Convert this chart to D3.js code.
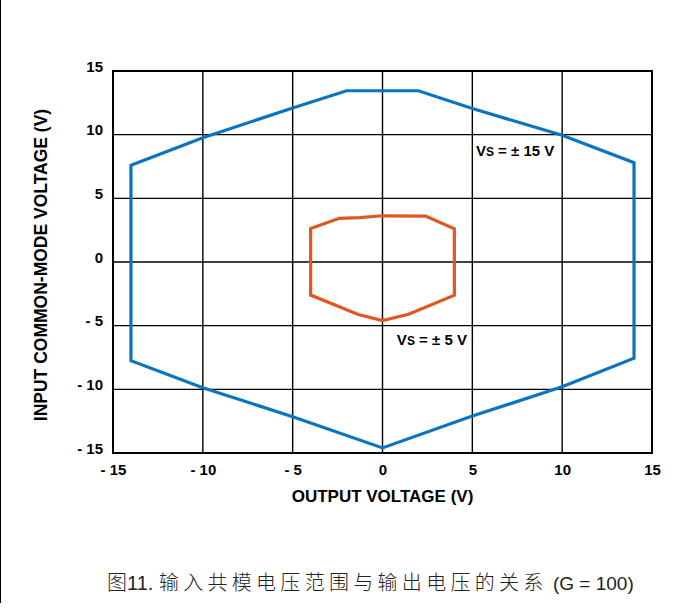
<!DOCTYPE html>
<html><head><meta charset="utf-8">
<script src="https://cdn.jsdelivr.net/npm/d3@7"></script>
<style>
body{margin:0;background:#fff;}
svg{display:block;}
</style></head>
<body>
<svg id="chart" width="684" height="615"></svg>
<script>
const tickValues = [-15, -10, -5, 0, 5, 10, 15];
const xTickLabels = ["- 15", "- 10", "- 5", "0", "5", "10", "15"];
const yTickLabels = ["- 15", "- 10", "- 5", "0", "5", "10", "15"];
// ±15 V supply boundary (output V, input CM V)
const vs15X = [-14.0, -10, -5, -2.0, 2.0, 5, 10, 14.0, 14.0, 10, 5, 0, -5, -10, -14.0];
const vs15Y = [7.6, 9.75, 12.1, 13.45, 13.45, 12.05, 9.95, 7.8, -7.55, -9.8, -12.1, -14.6, -12.15, -9.87, -7.75];
// ±5 V supply boundary
const vs5X = [-4.0, -2.4, -1.3, 0, 2.4, 4.0, 4.0, 1.45, 0, -1.35, -4.0];
const vs5Y = [2.63, 3.43, 3.48, 3.63, 3.61, 2.6, -2.6, -4.1, -4.6, -4.12, -2.6];

const svg = d3.select("#chart");
const L = 113, R = 652, T = 71, B = 453;
const x = d3.scaleLinear().domain([-15, 15]).range([L, R]);
const y = d3.scaleLinear().domain([-15, 15]).range([B, T]);

// left page edge line
svg.append("line").attr("x1", 0.5).attr("x2", 0.5).attr("y1", 0).attr("y2", 603)
  .attr("stroke", "#000").attr("stroke-width", 1);

// grid
const g = svg.append("g");
g.selectAll("line.vx").data(tickValues).join("line")
  .attr("x1", d => x(d)).attr("x2", d => x(d)).attr("y1", T).attr("y2", B)
  .attr("stroke", "#000").attr("stroke-width", 1.4);
g.selectAll("line.hy").data(tickValues).join("line")
  .attr("y1", d => y(d)).attr("y2", d => y(d)).attr("x1", L).attr("x2", R)
  .attr("stroke", "#000").attr("stroke-width", 1.4);
svg.append("rect").attr("x", L).attr("y", T).attr("width", R - L).attr("height", B - T)
  .attr("fill", "none").attr("stroke", "#000").attr("stroke-width", 2);

// axes (labels only)
const font = "'Liberation Sans', Arial, sans-serif";
const xAxis = svg.append("g").attr("transform", `translate(0,${B})`)
  .call(d3.axisBottom(x).tickValues(tickValues).tickSize(0).tickPadding(8)
    .tickFormat((d, i) => xTickLabels[i]));
const yAxis = svg.append("g").attr("transform", `translate(${L},0)`)
  .call(d3.axisLeft(y).tickValues(tickValues).tickSize(0).tickPadding(10)
    .tickFormat((d, i) => yTickLabels[i]));
[xAxis, yAxis].forEach(a => {
  a.select(".domain").remove();
  a.selectAll("text").attr("font-family", font).attr("font-weight", "bold")
    .attr("font-size", 15).attr("fill", "#000");
});
xAxis.selectAll("text").attr("dy", "0.95em");
yAxis.selectAll("text").attr("dy", "0em");

// curves
const line = d3.line().x(d => x(d[0])).y(d => y(d[1])).curve(d3.curveLinearClosed);
svg.append("path").datum(vs15X.map((v, i) => [v, vs15Y[i]]))
  .attr("d", line).attr("fill", "none").attr("stroke", "#0A74C0")
  .attr("stroke-width", 3.2).attr("stroke-linejoin", "miter");
svg.append("path").datum(vs5X.map((v, i) => [v, vs5Y[i]]))
  .attr("d", line).attr("fill", "none").attr("stroke", "#E0581F")
  .attr("stroke-width", 3.2).attr("stroke-linejoin", "miter");

// curve labels
function vsLabel(px, py, rest) {
  const t = svg.append("text").attr("x", px).attr("y", py)
    .attr("font-family", font).attr("font-weight", "bold").attr("font-size", 15).attr("fill", "#000");
  t.append("tspan").text("V");
  t.append("tspan").attr("font-size", 12).text("S");
  t.append("tspan").text(rest);
}
vsLabel(x(5.2), y(8.35), " = ± 15 V");
vsLabel(x(0.8), y(-6.5), " = ± 5 V");

// axis titles
svg.append("text").attr("x", (L + R) / 2).attr("y", 502).attr("text-anchor", "middle")
  .attr("font-family", font).attr("font-weight", "bold").attr("font-size", 17).attr("fill", "#000")
  .text("OUTPUT VOLTAGE (V)");
svg.append("text").attr("transform", `translate(47,${(T + B) / 2 + 3}) rotate(-90)`)
  .attr("text-anchor", "middle")
  .attr("font-family", font).attr("font-weight", "bold").attr("font-size", 17.5).attr("fill", "#000")
  .text("INPUT COMMON-MODE VOLTAGE (V)");

// caption
const cap = svg.append("text").attr("x", 107).attr("y", 590).attr("text-anchor", "start")
  .attr("font-size", 20).attr("fill", "#222");
cap.append("tspan").attr("font-family", "'Noto Sans CJK SC'").attr("font-weight", 300).text("图");
cap.append("tspan").attr("font-family", font).text("11. ");
cap.append("tspan").attr("font-family", "'Noto Sans CJK SC'").attr("font-weight", 300)
  .attr("letter-spacing", 4.3).text("输入共模电压范围与输出电压的关系");
cap.append("tspan").attr("font-family", font).attr("font-size", 19).text(" (G = 100)");
</script>
</body></html>
